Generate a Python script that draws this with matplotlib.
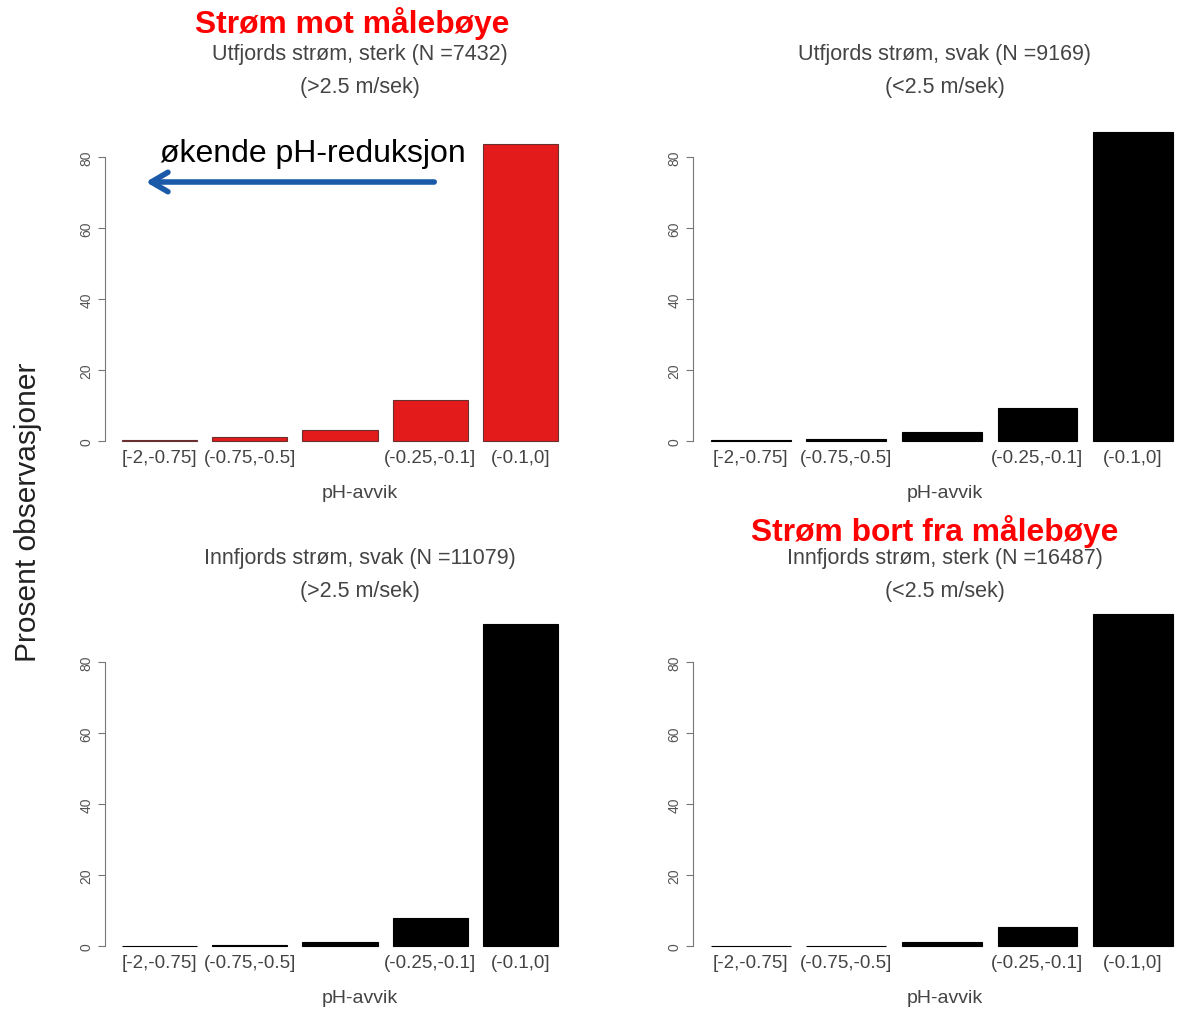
import matplotlib
matplotlib.use("Agg")
import matplotlib.pyplot as plt

W, H = 1180, 1012

categories = ["[-2,-0.75]", "(-0.75,-0.5]", "", "(-0.25,-0.1]", "(-0.1,0]"]

ut_sterk = [0.3, 1.1, 3.1, 11.5, 83.7]
ut_svak = [0.2, 0.5, 2.6, 9.3, 87.0]
inn_svak = [0.1, 0.2, 1.1, 7.9, 90.6]
inn_sterk = [0.1, 0.1, 1.0, 5.3, 93.5]

titles = [
    "Utfjords strøm, sterk (N =7432)\n(>2.5 m/sek)",
    "Utfjords strøm, svak (N =9169)\n(<2.5 m/sek)",
    "Innfjords strøm, svak (N =11079)\n(>2.5 m/sek)",
    "Innfjords strøm, sterk (N =16487)\n(<2.5 m/sek)",
]
yticks = [0, 20, 40, 60, 80]

plt.rcParams['font.family'] = ['Liberation Sans', 'DejaVu Sans']
fig = plt.figure(figsize=(W / 100, H / 100), dpi=100)

YMIN, YMAX = -1.5, 96
YSCALE = 3.55  # px per percent


def add_panel(vals, color, left_px, xscale, y0_px, title, title_y, cx):
    # x data range like R barplot (space 0.2, 4% padding)
    x0, x1 = -0.032, 6.232
    width_px = (x1 - x0) * xscale
    bottom_img = y0_px - YMIN * YSCALE
    height_px = (YMAX - YMIN) * YSCALE
    ax = fig.add_axes([left_px / W, 1 - bottom_img / H, width_px / W, height_px / H])
    ax.set_xlim(x0, x1)
    ax.set_ylim(YMIN, YMAX)
    ax.set_facecolor('none')
    pos = [0.7 + 1.2 * i for i in range(len(vals))]
    ec = '#6a3030' if color != 'black' else 'black'
    ax.bar(pos, vals, width=1.0, color=color, edgecolor=ec, linewidth=0.8, clip_on=False)
    for s in ['top', 'right', 'bottom']:
        ax.spines[s].set_visible(False)
    ax.spines['left'].set_bounds(0, 80)
    ax.spines['left'].set_color('#777777')
    ax.set_yticks(yticks)
    ax.set_yticklabels([str(t) for t in yticks], rotation=90, va='center',
                       fontsize=10, color='#555555')
    ax.tick_params(axis='y', length=5, color='#777777', pad=3)
    ax.set_xticks(pos)
    ax.set_xticklabels(categories, fontsize=13.5, color='#444444')
    ax.tick_params(axis='x', length=0, pad=2)
    fig.text(cx / W, 1 - (y0_px + 52) / H, "pH-avvik", ha='center', va='center',
             fontsize=14, color='#444444')
    fig.text(cx / W, 1 - title_y / H, title, ha='center', va='top',
             fontsize=15.5, color='#444444', linespacing=1.75)
    return ax


add_panel(ut_sterk, '#e31b1b', 104.5, 75.2, 442, titles[0], 44, 360)
add_panel(ut_svak, 'black', 692.5, 79.6, 442, titles[1], 44, 945)
add_panel(inn_svak, 'black', 104.5, 75.2, 947, titles[2], 548, 360)
add_panel(inn_sterk, 'black', 692.5, 79.6, 947, titles[3], 548, 945)

fig.text(352 / W, 1 - 24 / H, "Strøm mot målebøye", ha='center', va='center',
         fontsize=22.9, fontweight='bold', color='#ff0000')
fig.text(935 / W, 1 - 532 / H, "Strøm bort fra målebøye", ha='center', va='center',
         fontsize=22.9, fontweight='bold', color='#ff0000')
fig.text(28 / W, 1 - 512 / H, "Prosent observasjoner", rotation=90, ha='center',
         va='center', fontsize=21.5, color='#222222')
fig.text(313 / W, 1 - 154 / H, "økende pH-reduksjon", ha='center', va='center',
         fontsize=23, color='black')
fig.add_artist(matplotlib.patches.FancyArrowPatch(
    (437 / W, 1 - 183 / H), (143 / W, 1 - 183 / H), transform=fig.transFigure,
    arrowstyle='->,head_length=12,head_width=7', mutation_scale=1,
    color='#1a5aa8', linewidth=4))

fig.savefig("out.png", dpi=100, facecolor='white')
